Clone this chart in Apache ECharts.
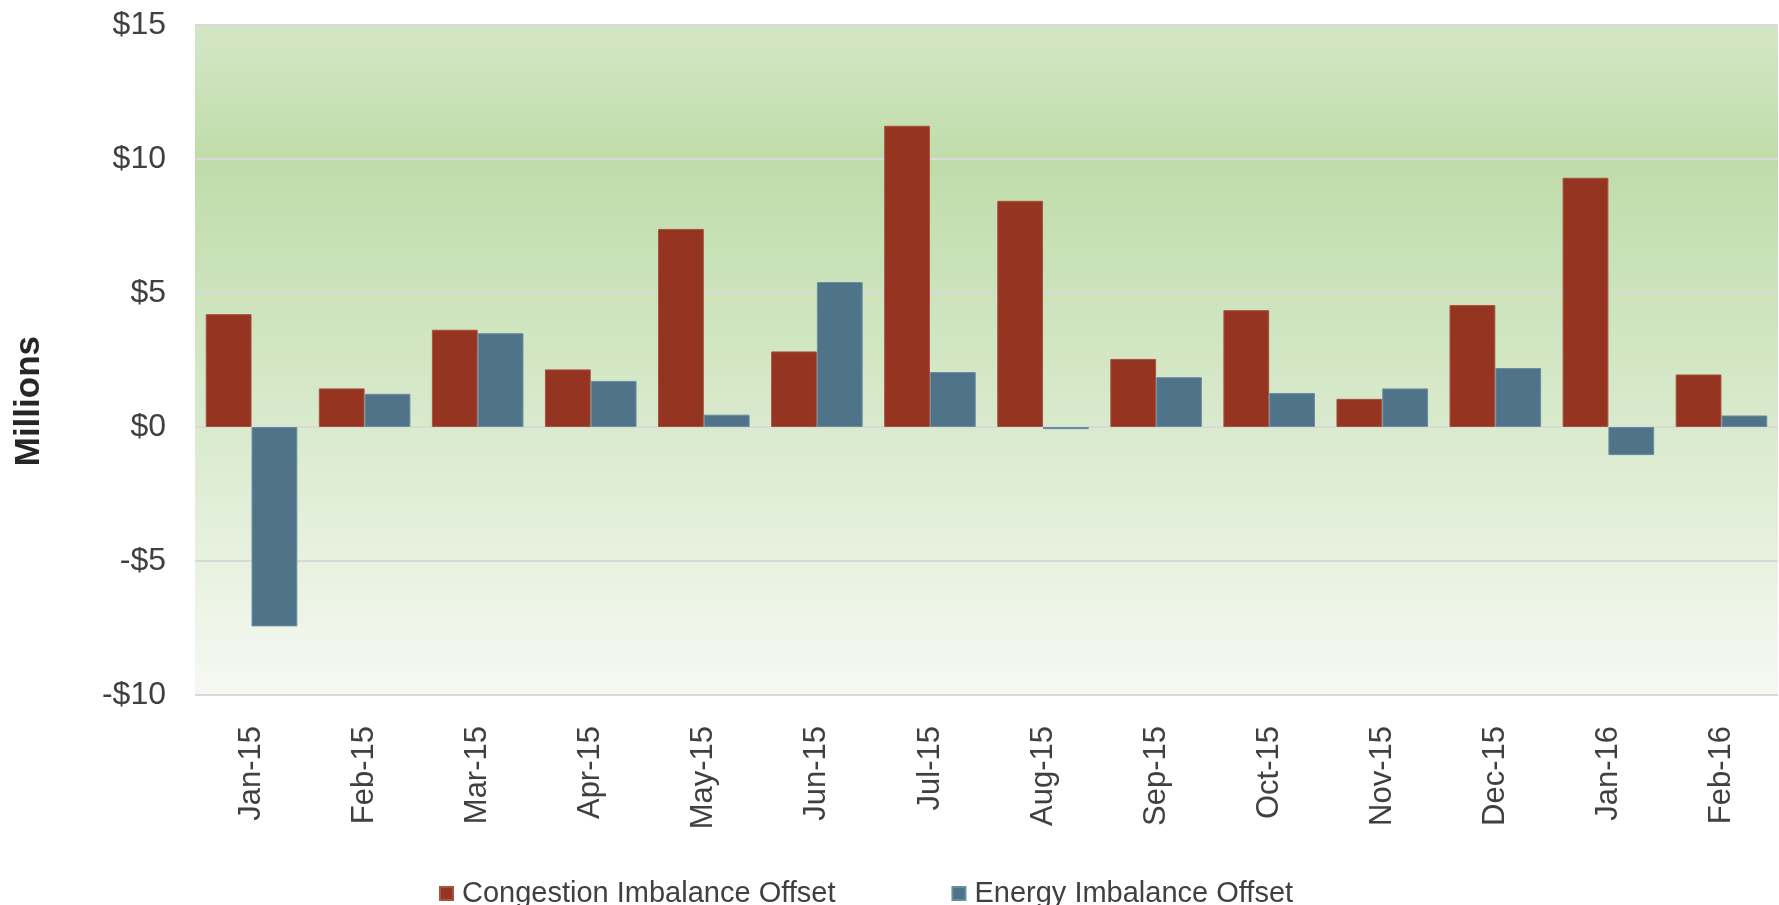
<!DOCTYPE html>
<html>
<head>
<meta charset="utf-8">
<script src="https://cdn.jsdelivr.net/npm/echarts@6/dist/echarts.min.js"></script>
<style>
html,body{margin:0;padding:0;background:#fff;}
#chart{width:1779px;height:905px;}
</style>
</head>
<body>
<div id="chart"></div>
<script>
const categories = ['Jan-15','Feb-15','Mar-15','Apr-15','May-15','Jun-15','Jul-15','Aug-15','Sep-15','Oct-15','Nov-15','Dec-15','Jan-16','Feb-16'];
const congestionImbalance = [4.21, 1.44, 3.63, 2.15, 7.39, 2.82, 11.24, 8.44, 2.54, 4.36, 1.05, 4.55, 9.30, 1.96];
const energyImbalance = [-7.44, 1.24, 3.50, 1.72, 0.46, 5.41, 2.05, -0.08, 1.86, 1.27, 1.44, 2.20, -1.05, 0.43];
const seriesNames = ['Congestion Imbalance Offset', 'Energy Imbalance Offset'];
const yAxisTitle = 'Millions';
const yMin = -10, yMax = 15, yStep = 5;

const chart = echarts.init(document.getElementById('chart'));
const font = 'Liberation Sans, Arial, sans-serif';
chart.setOption({
  animation: false,
  backgroundColor: '#ffffff',
  textStyle: { fontFamily: font },
  grid: {
    left: 195, top: 25, right: 1, bottom: 210,
    outerBoundsMode: 'none',
    containLabel: false,
    show: true,
    borderWidth: 0,
    backgroundColor: new echarts.graphic.LinearGradient(0, 0, 0, 1, [
      { offset: 0, color: '#d4e7c6' },
      { offset: 0.2, color: '#bfdcaa' },
      { offset: 0.6, color: '#d9eacd' },
      { offset: 1, color: '#f6f9f3' }
    ])
  },
  graphic: [{
    type: 'text',
    left: 12, top: 336,
    rotation: Math.PI / 2,
    style: { text: yAxisTitle, font: 'bold 35px Liberation Sans, Arial, sans-serif', fill: '#262626' }
  }],
  legend: {
    data: seriesNames,
    left: 434,
    top: 874,
    itemWidth: 13,
    itemHeight: 13,
    itemGap: 116,
    icon: 'rect',
    textStyle: { fontSize: 29, color: '#404040', fontFamily: font, padding: [0, 0, 0, 4] }
  },
  xAxis: {
    type: 'category',
    data: categories,
    axisLine: { show: false, onZero: false },
    axisTick: { show: false },
    axisLabel: { rotate: 90, fontSize: 31, color: '#404040', margin: 31, fontFamily: font, padding: [6, 0, 0, 0] }
  },
  yAxis: {
    type: 'value',
    min: yMin, max: yMax, interval: yStep,
    axisLine: { show: false },
    axisTick: { show: false },
    splitLine: { lineStyle: { color: '#d9d9d9', width: 2 } },
    axisLabel: {
      fontSize: 32, color: '#404040', margin: 29, fontFamily: font,
      formatter: v => (v < 0 ? '-$' + (-v) : '$' + v)
    }
  },
  series: [
    {
      name: seriesNames[0], type: 'bar', data: congestionImbalance,
      barGap: '0%', barCategoryGap: '19%',
      itemStyle: { color: '#943421', borderColor: '#a8523f', borderWidth: 1 }
    },
    {
      name: seriesNames[1], type: 'bar', data: energyImbalance,
      barGap: '0%', barCategoryGap: '19%',
      itemStyle: { color: '#4f7489', borderColor: '#6a8ea0', borderWidth: 1 }
    }
  ]
});
</script>
</body>
</html>
